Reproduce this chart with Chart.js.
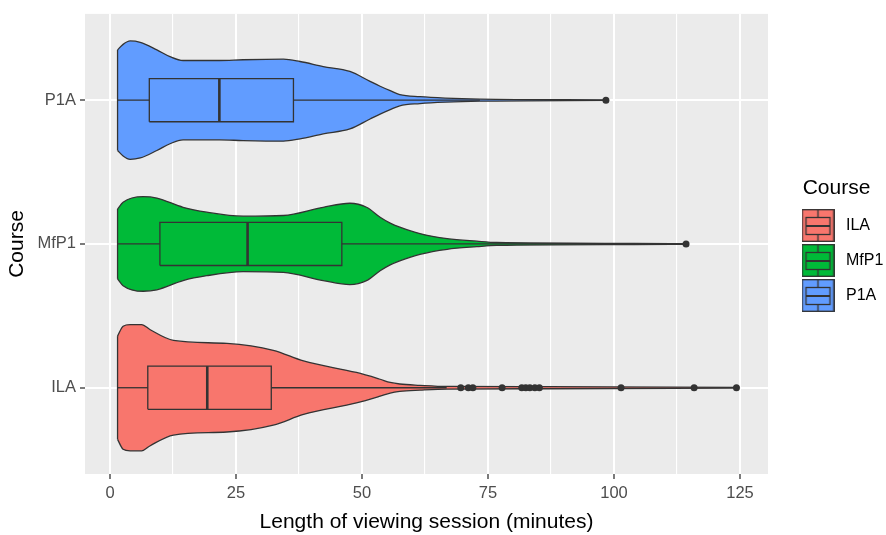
<!DOCTYPE html>
<html>
<head>
<meta charset="utf-8">
<title>Length of viewing session by course</title>
<script src="https://cdn.jsdelivr.net/npm/chart.js@4.4.0/dist/chart.umd.min.js"></script>
<style>
  html, body { margin: 0; padding: 0; background: #ffffff; }
  #wrap { width: 886px; height: 535px; }
</style>
</head>
<body>
<div id="wrap"><canvas id="violin" width="886" height="535"></canvas></div>
<script>

var courses = ['ILA', 'MfP1', 'P1A'];
var courseColours = ['#F8766D', '#00BA38', '#619CFF'];

// violin outline: session length (minutes) and half width (category units)
var ilaLen  = [1.5, 2.6, 4.0, 6.3, 7.9, 12.6, 23.2, 32.4, 38.4, 48.9, 53.6, 55.6, 57.5, 61.5, 66.9, 86.9, 124.4];
var ilaHalf = [0.359, 0.428, 0.439, 0.439, 0.405, 0.329, 0.308, 0.260, 0.186, 0.106, 0.059, 0.037, 0.026, 0.017, 0.009, 0.007, 0.002];

var mfp1Len  = [1.5, 2.6, 6.6, 9.3, 14.5, 19.2, 26.4, 34.4, 42.3, 47.6, 50.9, 53.6, 55.6, 57.5, 61.5, 66.9, 72.8, 76.7, 104.0, 114.3];
var mfp1Half = [0.243, 0.290, 0.329, 0.319, 0.255, 0.221, 0.193, 0.198, 0.255, 0.283, 0.255, 0.186, 0.145, 0.117, 0.072, 0.037, 0.019, 0.010, 0.004, 0.002];

var p1aLen  = [1.5, 2.6, 4.0, 6.0, 9.3, 11.9, 14.5, 21.8, 26.4, 34.4, 37.7, 42.3, 47.6, 51.6, 53.6, 55.6, 57.5, 61.5, 66.5, 73.4, 98.4];
var p1aHalf = [0.350, 0.388, 0.412, 0.402, 0.350, 0.303, 0.276, 0.276, 0.281, 0.285, 0.269, 0.234, 0.200, 0.131, 0.097, 0.066, 0.039, 0.024, 0.014, 0.007, 0.002];

// boxplot: [lower whisker, Q1, median, Q3, upper whisker]
var ilaBox  = [1.5, 7.5, 19.3, 32.0, 66.8];
var mfp1Box = [1.5, 9.9, 27.3, 46.0, 100.0];
var p1aBox  = [1.5, 7.8, 21.7, 36.4, 73.4];

// outliers
var ilaOut  = [69.6, 71.1, 72.0, 77.8, 81.7, 82.5, 83.3, 84.3, 85.2, 101.4, 115.9, 124.3];
var mfp1Out = [114.3];
var p1aOut  = [98.4];

var xMajor = [0, 25, 50, 75, 100, 125];
var xMinor = [12.5, 37.5, 62.5, 87.5, 112.5];

var INK = '#333333';
var BOX_HALF = 0.15;

function line_set(points, width, order) {
    return { data: points, borderColor: INK, borderWidth: width, fill: false, order: order };
}

function course_sets(i, len, half, box, out) {
    var y = i + 1;
    var colour = courseColours[i];

    var upper = len.map(function (v, k) { return { x: v, y: y + half[k] }; });
    var lower = len.map(function (v, k) { return { x: v, y: y - half[k] }; });

    var rect = [
        { x: box[1], y: y - BOX_HALF }, { x: box[3], y: y - BOX_HALF },
        { x: box[3], y: y + BOX_HALF }, { x: box[1], y: y + BOX_HALF },
        { x: box[1], y: y - BOX_HALF }
    ];

    return [
        // violin: fill between the two edges, both edges smoothed
        { data: upper, fill: '+1', backgroundColor: colour, borderColor: INK, borderWidth: 1.3,
          cubicInterpolationMode: 'monotone', order: 50 },
        { data: lower, fill: false, borderColor: INK, borderWidth: 1.3,
          cubicInterpolationMode: 'monotone', order: 50 },
        line_set([lower[0], upper[0]], 1.3, 50),
        // boxplot
        line_set([{ x: box[0], y: y }, { x: box[1], y: y }], 1.3, 30),
        line_set([{ x: box[3], y: y }, { x: box[4], y: y }], 1.3, 30),
        line_set(rect, 1.3, 20),
        line_set([{ x: box[2], y: y - BOX_HALF }, { x: box[2], y: y + BOX_HALF }], 2.6, 10),
        {
            data: out.map(function (v) { return { x: v, y: y }; }),
            showLine: false, pointRadius: 3.5, pointBackgroundColor: INK,
            pointBorderColor: INK, pointBorderWidth: 0, order: 0
        }
    ];
}

// small boxplot-in-a-square glyph for the legend keys
function key_glyph(colour) {
    var c = document.createElement('canvas');
    c.width = 33; c.height = 33;
    var g = c.getContext('2d');
    g.fillStyle = colour;
    g.fillRect(0, 0, 33, 33);
    g.strokeStyle = INK;
    g.lineWidth = 1.3;
    g.strokeRect(0.7, 0.7, 31.6, 31.6);
    g.strokeRect(4.5, 8.5, 24, 17);
    g.beginPath();
    g.moveTo(16.5, 1); g.lineTo(16.5, 8.5);
    g.moveTo(16.5, 25.5); g.lineTo(16.5, 32);
    g.stroke();
    g.lineWidth = 2;
    g.beginPath();
    g.moveTo(4.5, 17); g.lineTo(28.5, 17);
    g.stroke();
    return c;
}

var panelBg = {
    id: 'panelBg',
    beforeDraw: function (chart) {
        var a = chart.chartArea;
        var ctx = chart.ctx;
        ctx.save();
        ctx.fillStyle = '#EBEBEB';
        ctx.fillRect(a.left, a.top, a.right - a.left, a.bottom - a.top);
        ctx.restore();
    }
};

// keep the legend column 118px wide, then slide it to where ggplot puts it
var legendPlace = {
    id: 'legendPlace',
    afterInit: function (chart) {
        var lg = chart.legend;
        var fit = lg.fit;
        lg.fit = function () { fit.call(this); this.width = 118; };
    },
    afterLayout: function (chart) {
        var lg = chart.legend;
        lg.left = 779; lg.width = 115; lg.right = 894;
    }
};

Chart.defaults.font.family = '"Liberation Sans", Arial, sans-serif';

var datasets = []
    .concat(course_sets(0, ilaLen, ilaHalf, ilaBox, ilaOut))
    .concat(course_sets(1, mfp1Len, mfp1Half, mfp1Box, mfp1Out))
    .concat(course_sets(2, p1aLen, p1aHalf, p1aBox, p1aOut));

var xGrid = xMajor.concat(xMinor).sort(function (a, b) { return a - b; });

new Chart(document.getElementById('violin'), {
    type: 'line',
    data: { datasets: datasets },
    options: {
        responsive: false,
        devicePixelRatio: 1,
        animation: false,
        events: [],
        layout: { padding: { top: 10, right: 0, bottom: 0, left: 0 } },
        elements: { point: { radius: 0 }, line: { tension: 0 } },
        scales: {
            x: {
                type: 'linear', min: -4.96, max: 130.56, bounds: 'data',
                afterBuildTicks: function (s) { s.ticks = xGrid.map(function (v) { return { value: v }; }); },
                afterFit: function (s) { s.height = 61; },
                ticks: {
                    autoSkip: false, maxRotation: 0, padding: 5,
                    color: '#4D4D4D', font: { size: 16.5 },
                    callback: function (v) { return xMajor.indexOf(v) >= 0 ? String(v) : ''; }
                },
                grid: {
                    color: '#FFFFFF',
                    lineWidth: function (c) { return c.tick && xMajor.indexOf(c.tick.value) >= 0 ? 2 : 1.1; },
                    tickLength: 5, tickWidth: 1.3,
                    tickColor: function (c) { return c.tick && xMajor.indexOf(c.tick.value) >= 0 ? INK : 'rgba(0,0,0,0)'; }
                },
                border: { display: false },
                title: {
                    display: true, text: 'Length of viewing session (minutes)',
                    color: '#000000', font: { size: 21 }, padding: { top: 0, bottom: 0 }
                }
            },
            y: {
                type: 'linear', min: 0.4, max: 3.6, bounds: 'data',
                afterBuildTicks: function (s) { s.ticks = [1, 2, 3].map(function (v) { return { value: v }; }); },
                afterFit: function (s) { s.width = 85; },
                ticks: {
                    autoSkip: false, padding: 4,
                    color: '#4D4D4D', font: { size: 16.5 },
                    callback: function (v) { return courses[v - 1]; }
                },
                grid: { color: '#FFFFFF', lineWidth: 2, tickLength: 5, tickWidth: 1.3, tickColor: INK },
                border: { display: false },
                title: {
                    display: true, text: 'Course',
                    color: '#000000', font: { size: 21 }, padding: { top: 5, bottom: 0 }
                }
            }
        },
        plugins: {
            tooltip: { enabled: false },
            filler: { drawTime: 'beforeDatasetsDraw' },
            legend: {
                position: 'right',
                align: 'start',
                title: {
                    display: true, text: 'Course', position: 'center',
                    color: '#000000', font: { size: 21, lineHeight: 1 },
                    padding: { top: 167.5, bottom: 0 }
                },
                labels: {
                    usePointStyle: true, pointStyleWidth: 40, padding: 19,
                    color: '#000000', font: { size: 16 },
                    generateLabels: function () {
                        return courses.map(function (name, i) {
                            return {
                                text: name, fontColor: '#000000', hidden: false,
                                pointStyle: key_glyph(courseColours[i]),
                                fillStyle: courseColours[i], strokeStyle: INK, lineWidth: 0
                            };
                        });
                    }
                }
            }
        }
    },
    plugins: [panelBg, legendPlace]
});

</script>
</body>
</html>
